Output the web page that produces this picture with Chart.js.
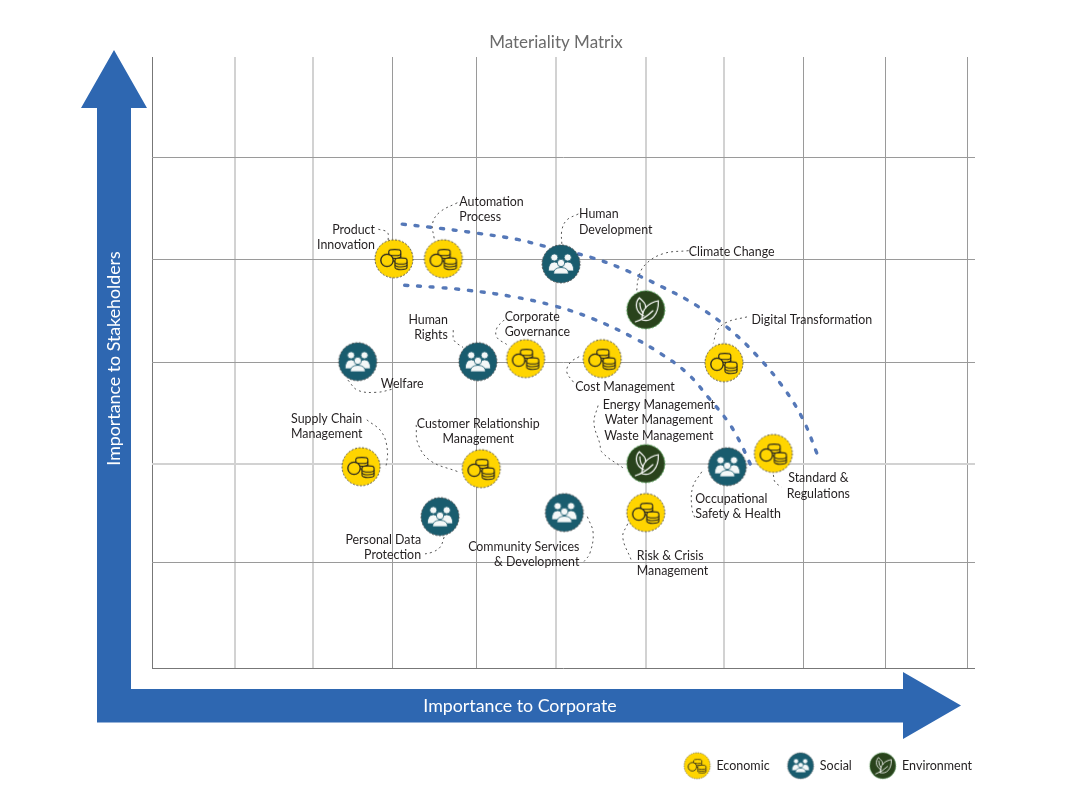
<!DOCTYPE html>
<html>
<head>
<meta charset="utf-8">
<title>Materiality Matrix</title>
<script src="https://cdn.jsdelivr.net/npm/chart.js@4"></script>
<style>
    html, body { margin: 0; padding: 0; background: #fff; }
    #wrap { width: 1081px; height: 801px; }
</style>
</head>
<body>
<div id="wrap"><canvas id="matrix"></canvas></div>
<script>
// Grid positions (the grid is not quite even)
const xGridValues = [0, 1.008, 1.956, 2.928, 3.937, 4.909, 6.002, 6.95, 7.922, 8.918, 9.903];
const yGridValues = [0, 1.04, 2.003, 3.005, 4.017, 5.018];

const economicNames = ['Product\nInnovation', 'Automation\nProcess', 'Corporate\nGovernance', 'Cost Management', 'Digital Transformation',
    'Standard &\nRegulations', 'Supply Chain\nManagement', 'Customer Relationship\nManagement', 'Risk & Crisis\nManagement'];
const economicX = [2.94, 3.54, 4.54, 5.47, 6.95, 7.55, 2.54, 4.00, 6.00];
const economicY = [4.02, 4.02, 3.04, 3.04, 3.00, 2.11, 1.98, 1.96, 1.53];

const socialNames = ['Human\nDevelopment', 'Welfare', 'Human\nRights', 'Occupational\nSafety & Health', 'Personal Data\nProtection',
    'Community Services\n& Development'];
const socialX = [4.97, 2.50, 3.96, 6.99, 3.50, 5.01];
const socialY = [3.97, 3.01, 3.01, 1.98, 1.49, 1.53];

const environmentNames = ['Climate Change', 'Energy Management\nWater Management\nWaste Management'];
const environmentX = [6.00, 6.00];
const environmentY = [3.52, 2.01];

// The two dotted blue curves
const upperCurveX = [3.04, 3.49, 3.96, 4.44, 4.74, 5.35, 5.78, 6.21, 6.62, 7.00, 7.35, 7.65, 7.90, 8.08];
const upperCurveY = [4.36, 4.32, 4.27, 4.21, 4.15, 4.03, 3.90, 3.74, 3.56, 3.34, 3.07, 2.78, 2.46, 2.11];
const lowerCurveX = [3.07, 3.46, 3.85, 4.37, 4.88, 5.36, 5.84, 6.18, 6.50, 6.76, 7.00, 7.14, 7.25, 7.30];
const lowerCurveY = [3.76, 3.74, 3.71, 3.65, 3.56, 3.43, 3.25, 3.09, 2.90, 2.66, 2.42, 2.23, 2.04, 1.95];

// Thin dotted leader lines from the labels to the circles
const leaderXs = [
    [2.75, 2.86, 2.87], [3.71, 3.50, 3.41, 3.43], [5.18, 5.04, 4.98, 4.98], [6.52, 6.21, 5.99, 5.91, 5.89],
    [7.23, 6.99, 6.87, 6.82], [4.28, 4.19, 4.19, 4.31], [3.66, 3.67, 3.78], [2.38, 2.50, 2.73, 2.92],
    [5.19, 5.08, 5.04, 5.12], [5.42, 5.37, 5.44, 5.47, 5.72], [2.61, 2.79, 2.86, 2.84], [3.21, 3.23, 3.38, 3.72],
    [3.55, 3.50, 3.40, 3.28], [5.29, 5.36, 5.32, 5.25], [5.78, 5.72, 5.82], [6.68, 6.57, 6.56, 6.60], [7.55, 7.57, 7.65]
];
const leaderYs = [
    [4.31, 4.28, 4.20], [4.57, 4.48, 4.37, 4.21], [4.46, 4.40, 4.30, 4.15], [4.10, 4.07, 3.96, 3.83, 3.71],
    [3.45, 3.40, 3.32, 3.19], [3.42, 3.34, 3.25, 3.18], [3.32, 3.22, 3.15], [2.83, 2.73, 2.71, 2.74],
    [3.06, 3.00, 2.91, 2.81], [2.58, 2.41, 2.21, 2.12, 1.97], [2.44, 2.32, 2.14, 1.96], [2.39, 2.21, 2.04, 1.93],
    [1.29, 1.19, 1.14, 1.12], [1.49, 1.33, 1.13, 1.05], [1.42, 1.29, 1.07], [1.93, 1.78, 1.57, 1.47], [1.90, 1.83, 1.78]
];

// Where each label sits relative to its circle: dx, dy of the first line, text align
const labelPlacement = {
    'Product\nInnovation': [-19, -29, 'right'],
    'Automation\nProcess': [16, -57, 'left'],
    'Corporate\nGovernance': [-21, -42, 'left'],
    'Cost Management': [-27, 28, 'left'],
    'Digital Transformation': [27.5, -43, 'left'],
    'Standard &\nRegulations': [45, 25, 'center'],
    'Supply Chain\nManagement': [-70, -48, 'left'],
    'Customer Relationship\nManagement': [-3, -45, 'center'],
    'Risk & Crisis\nManagement': [-9, 43, 'left'],
    'Human\nDevelopment': [18, -50, 'left'],
    'Welfare': [23, 22, 'left'],
    'Human\nRights': [-30, -42, 'right'],
    'Occupational\nSafety & Health': [-32, 32, 'left'],
    'Personal Data\nProtection': [-19, 23, 'right'],
    'Community Services\n& Development': [15, 34, 'right'],
    'Climate Change': [43, -58, 'left'],
    'Energy Management\nWater Management\nWaste Management': [13, -59, 'center']
};

const FONT = 'Lato, "Noto Sans", sans-serif';
const ARROW_BLUE = '#2e67b1';

function zip(xs, ys) {
    return xs.map((x, i) => ({ x: x, y: ys[i] }));
}

// Circle icons, drawn once on small canvases and used as point styles
function makeIcon(kind, diameter) {
    const size = diameter + 4;
    const c = document.createElement('canvas');
    c.width = size;
    c.height = size;
    const g = c.getContext('2d');
    g.translate(size / 2, size / 2);
    g.scale(diameter / 38, diameter / 38);

    const fill = { economic: '#ffd500', social: '#195c6e', environment: '#29431c' }[kind];
    const edge = { economic: '#444444', social: '#444444', environment: '#45a24a' }[kind];
    g.beginPath();
    g.arc(0, 0, 19, 0, Math.PI * 2);
    g.fillStyle = fill;
    g.fill();
    g.setLineDash([2, 1.6]);
    g.strokeStyle = edge;
    g.lineWidth = 0.9;
    g.stroke();
    g.setLineDash([]);

    if (kind === 'economic') drawCoins(g);
    if (kind === 'social') drawPeople(g);
    if (kind === 'environment') drawLeaf(g);
    return c;
}

function drawStack(g, cx, top, w, discs) {
    for (let i = discs - 1; i >= 0; i--) {
        const y = top + i * 2.7;
        g.beginPath();
        g.ellipse(cx, y + 2.4, w / 2, 1.9, 0, 0, Math.PI);
        g.lineTo(cx - w / 2, y);
        g.ellipse(cx, y, w / 2, 1.9, 0, Math.PI, 0);
        g.closePath();
        g.fillStyle = '#ffd500';
        g.fill();
        g.stroke();
    }
}

function drawCoins(g) {
    g.strokeStyle = '#222222';
    g.lineWidth = 1.1;
    drawStack(g, 0.8, -7.5, 12, 3);
    drawStack(g, 7, 1, 12, 3);
    g.beginPath();
    g.arc(-7, 1.5, 6.2, 0, Math.PI * 2);
    g.fillStyle = '#ffd500';
    g.fill();
    g.lineWidth = 1.3;
    g.stroke();
}

function drawPerson(g, x, headY, headR, bodyW, bottom) {
    g.beginPath();
    g.arc(x, headY, headR, 0, Math.PI * 2);
    g.fill();
    g.stroke();
    g.beginPath();
    g.moveTo(x - bodyW / 2, bottom);
    g.quadraticCurveTo(x - bodyW / 2, headY + headR + 1, x, headY + headR + 0.8);
    g.quadraticCurveTo(x + bodyW / 2, headY + headR + 1, x + bodyW / 2, bottom);
    g.closePath();
    g.fill();
    g.stroke();
}

function drawPeople(g) {
    g.fillStyle = '#f4f8f8';
    g.strokeStyle = '#195c6e';
    g.lineWidth = 0.8;
    drawPerson(g, -6.7, -6.5, 3.6, 12, 7);
    drawPerson(g, 6.7, -6.5, 3.6, 12, 7);
    drawPerson(g, 0, -1, 3.7, 15, 10);
}

function drawLeaf(g) {
    g.strokeStyle = '#ffffff';
    g.lineWidth = 1.2;
    g.lineCap = 'round';
    // small left leaf
    g.beginPath();
    g.moveTo(-2, 6);
    g.bezierCurveTo(-11, 2, -11, -7, -6.5, -12);
    g.bezierCurveTo(-2, -8, 0, -6, 0, -2);
    g.stroke();
    g.beginPath();
    g.moveTo(-6, -7);
    g.quadraticCurveTo(-6, 0, -2.5, 3);
    g.stroke();
    // big right leaf
    g.beginPath();
    g.moveTo(-4, 10);
    g.bezierCurveTo(5, 13, 13, 5, 12.5, -9);
    g.bezierCurveTo(3, -7, -4, -2, -4, 10);
    g.stroke();
    // stem
    g.beginPath();
    g.moveTo(-10.5, 12);
    g.quadraticCurveTo(-1, 9, 7, 1);
    g.stroke();
}

const icons = {
    economic: makeIcon('economic', 38),
    social: makeIcon('social', 38),
    environment: makeIcon('environment', 38)
};
const legendIcons = [makeIcon('economic', 26), makeIcon('social', 26), makeIcon('environment', 26)];

function pointSet(label, names, xs, ys, icon) {
    return {
        label: label,
        names: names,
        data: zip(xs, ys),
        pointStyle: icon,
        pointRadius: 19,
        pointHoverRadius: 19,
        showLine: false,
        order: 1
    };
}

function curveSet(xs, ys) {
    return {
        data: zip(xs, ys),
        showLine: true,
        pointRadius: 0,
        tension: 0.4,
        borderColor: '#5578b8',
        borderWidth: 3.4,
        borderDash: [3, 9.8],
        borderCapStyle: 'round',
        order: 3
    };
}

function leaderSet(xs, ys) {
    return {
        data: zip(xs, ys),
        showLine: true,
        pointRadius: 0,
        tension: 0.4,
        borderColor: '#555555',
        borderWidth: 1,
        borderDash: [2, 3.2],
        order: 2
    };
}

const datasets = [
    pointSet('Economic', economicNames, economicX, economicY, icons.economic),
    pointSet('Social', socialNames, socialX, socialY, icons.social),
    pointSet('Environment', environmentNames, environmentX, environmentY, icons.environment),
    curveSet(upperCurveX, upperCurveY),
    curveSet(lowerCurveX, lowerCurveY)
].concat(leaderXs.map((xs, i) => leaderSet(xs, leaderYs[i])));

// Blue axis arrows with their white titles, behind everything else
const axisArrows = {
    id: 'axisArrows',
    beforeDraw(chart) {
        const ctx = chart.ctx;
        ctx.save();
        ctx.fillStyle = ARROW_BLUE;
        ctx.beginPath();
        ctx.moveTo(114, 50);
        ctx.lineTo(147, 108);
        ctx.lineTo(131, 108);
        ctx.lineTo(131, 689);
        ctx.lineTo(903, 689);
        ctx.lineTo(903, 672);
        ctx.lineTo(961, 705.5);
        ctx.lineTo(903, 739);
        ctx.lineTo(903, 722.5);
        ctx.lineTo(97, 722.5);
        ctx.lineTo(97, 108);
        ctx.lineTo(81, 108);
        ctx.closePath();
        ctx.fill();

        ctx.fillStyle = '#ffffff';
        ctx.font = '17.8px ' + FONT;
        ctx.textAlign = 'center';
        ctx.textBaseline = 'middle';
        ctx.fillText('Importance to Corporate', 520, 706);
        ctx.translate(114, 358.5);
        ctx.rotate(-Math.PI / 2);
        ctx.fillText('Importance to Stakeholders', 0, 0);
        ctx.restore();
    }
};

// Text labels next to the circles
const pointLabels = {
    id: 'pointLabels',
    afterDatasetsDraw(chart) {
        const ctx = chart.ctx;
        ctx.save();
        ctx.font = '12.4px ' + FONT;
        ctx.fillStyle = '#231f20';
        ctx.textBaseline = 'middle';
        chart.data.datasets.forEach((ds, i) => {
            if (!ds.names) return;
            chart.getDatasetMeta(i).data.forEach((pt, j) => {
                const place = labelPlacement[ds.names[j]];
                ctx.textAlign = place[2];
                ds.names[j].split('\n').forEach((line, k) => {
                    ctx.fillText(line, pt.x + place[0], pt.y + place[1] + k * 15.7);
                });
            });
        });
        ctx.restore();
    }
};

// The title centres on the chart area, the reference has it a little further left.
// The legend keeps a trailing gap on its right that the reference does not have.
const blockNudge = {
    id: 'blockNudge',
    afterLayout(chart) {
        chart.titleBlock.left -= 15;
        chart.legend.left += 15;
        chart.legend.right += 15;
    }
};

function isThickX(value) {
    const i = xGridValues.indexOf(value);
    return [1, 2, 5, 6, 7].includes(i);
}

new Chart(document.getElementById('matrix'), {
    type: 'scatter',
    data: { datasets: datasets },
    plugins: [axisArrows, pointLabels, blockNudge],
    options: {
        responsive: true,
        maintainAspectRatio: false,
        animation: false,
        events: [],
        layout: { padding: { top: 0, left: 0, right: 106, bottom: 19 } },
        plugins: {
            tooltip: { enabled: false },
            title: {
                display: true,
                text: 'Materiality Matrix',
                color: '#6b6b6b',
                fullSize: false,
                font: { family: FONT, size: 17, weight: 'normal' },
                padding: { top: 32, bottom: 4.6 }
            },
            legend: {
                position: 'bottom',
                align: 'end',
                labels: {
                    usePointStyle: true,
                    pointStyleWidth: 26,
                    padding: 18,
                    color: '#231f20',
                    font: { family: FONT, size: 12.5 },
                    generateLabels(chart) {
                        return chart.data.datasets.slice(0, 3).map((ds, i) => ({
                            text: ds.label,
                            pointStyle: legendIcons[i],
                            datasetIndex: i,
                            fontColor: '#231f20',
                            lineWidth: 0
                        }));
                    }
                }
            }
        },
        scales: {
            x: {
                type: 'linear',
                min: 0,
                max: 10,
                afterFit(scale) { scale.height = 73; },
                afterBuildTicks(scale) { scale.ticks = xGridValues.map(v => ({ value: v })); },
                ticks: { display: false, autoSkip: false },
                border: { display: false },
                grid: {
                    drawTicks: false,
                    color: ctx => ctx.tick.value === 0 ? '#777777' : isThickX(ctx.tick.value) ? '#d2d2d2' : '#9a9a9a',
                    lineWidth: ctx => isThickX(ctx.tick.value) ? 2 : 1
                }
            },
            y: {
                type: 'linear',
                min: 0,
                max: 6,
                afterFit(scale) { scale.width = 152; },
                afterBuildTicks(scale) { scale.ticks = yGridValues.map(v => ({ value: v })); },
                ticks: { display: false, autoSkip: false },
                border: { display: false },
                grid: {
                    drawTicks: false,
                    color: ctx => ctx.tick.value === 0 ? '#777777' : ctx.tick.value === 2.003 ? '#d2d2d2' : '#9a9a9a',
                    lineWidth: ctx => ctx.tick.value === 2.003 ? 2 : 1
                }
            }
        }
    }
});
</script>
</body>
</html>
